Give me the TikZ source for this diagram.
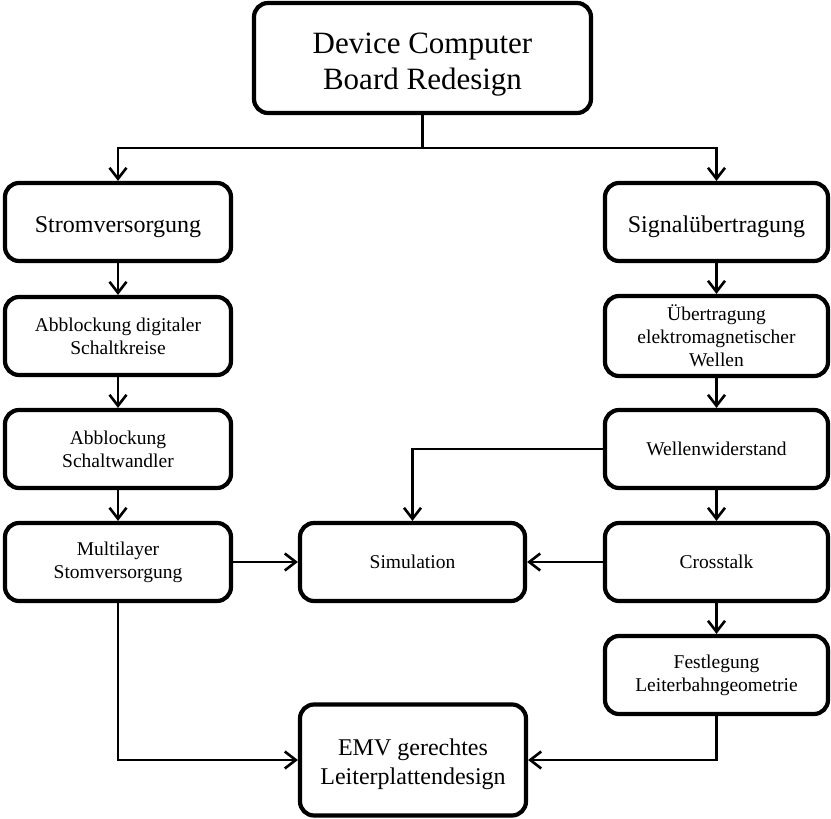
\documentclass[tikz,border=0pt]{standalone}
\usepackage{fontspec}
\setmainfont{Liberation Serif}
\usepackage{tikz}
\usetikzlibrary{arrows.meta,positioning}

\begin{document}
\begin{tikzpicture}[x=1pt, y=-1pt, >={Straight Barb[length=11pt,width=17pt]},
  box/.style={draw, line width=4.2pt, rounded corners=14pt, align=center, inner sep=2pt, minimum width=226pt, minimum height=78pt, font=\fontsize{19.5}{23}\selectfont},
  bigbox/.style={box, text height=27pt, font=\fontsize{24}{29}\selectfont},
  link/.style={line width=2.6pt}]
\useasboundingbox (0,0) rectangle (831,819);
\node[box, minimum width=337pt, minimum height=110pt, text height=69pt, font=\fontsize{31}{36}\selectfont] (top) at (422.5,58) {Device Computer\\Board Redesign};
% left column
\node[bigbox] (strom) at (118,222) {Stromversorgung};
\node[box] (abdig) at (118,336) {Abblockung digitaler\\Schaltkreise};
\node[box] (absw) at (118,449) {Abblockung\\Schaltwandler};
\node[box] (multi) at (118,562) {Multilayer\\Stomversorgung};
% right column
\node[bigbox, minimum width=223pt] (signal) at (716.5,222) {Signalübertragung};
\node[box, minimum width=223pt, minimum height=80pt] (uebw) at (716.5,336) {Übertragung\\elektromagnetischer\\Wellen};
\node[box, minimum width=223pt] (wellen) at (716.5,449) {Wellenwiderstand};
\node[box, minimum width=223pt] (cross) at (716.5,562) {Crosstalk};
\node[box, minimum width=223pt] (fest) at (716.5,675) {Festlegung\\Leiterbahngeometrie};
% middle
\node[box, minimum width=225pt] (sim) at (412.5,562) {Simulation};
\node[bigbox, minimum height=111pt, text height=55pt] (emv) at (413,760) {EMV gerechtes\\Leiterplattendesign};
\coordinate (bus) at (422.5,148);

\draw[link] (top.south) -- (bus);
\draw[link, ->] (bus) -| (strom.north);
\draw[link, ->] (bus) -| (signal.north);
\foreach \a/\b in {strom/abdig,abdig/absw,absw/multi,signal/uebw,uebw/wellen,wellen/cross,cross/fest}
  \draw[link, ->] (\a.south) -- (\b.north);
\draw[link, ->] (multi.east) -- (sim.west);
\draw[link, ->] (cross.west) -- (sim.east);
\draw[link, ->] (wellen.west) -| (sim.north);
\draw[link, ->] (multi.south) |- (emv.west);
\draw[link, ->] (fest.south) |- (emv.east);
\end{tikzpicture}
\end{document}
